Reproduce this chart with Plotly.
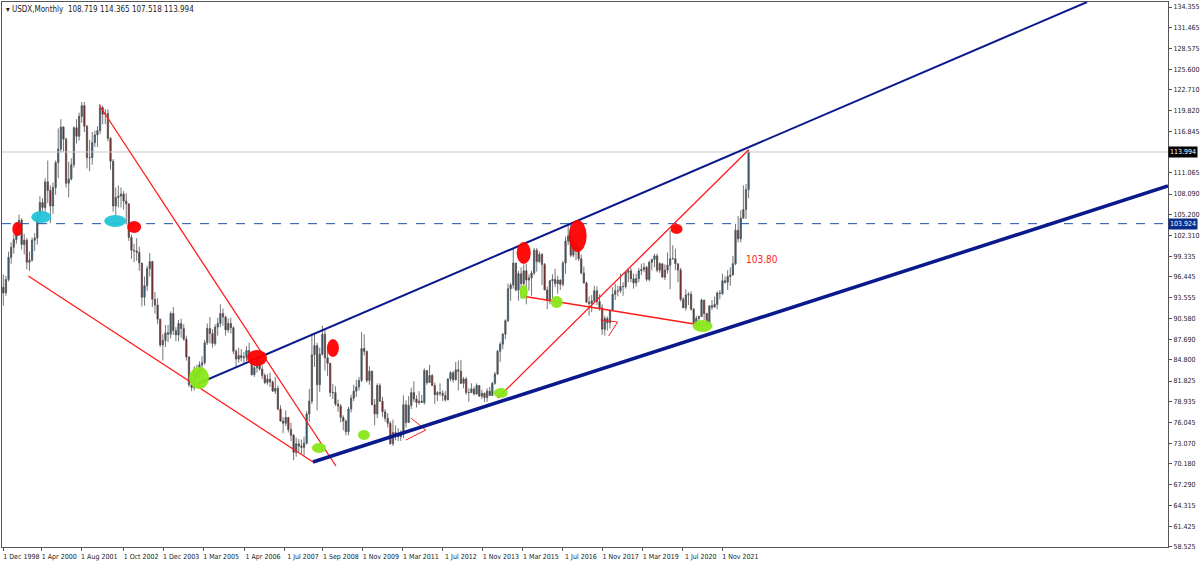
import plotly.graph_objects as go

first_open = 95.0
closes = [94.2,
 96.1,99.2,100.6,101.7,103.4,104.4,101.0,101.6,98.5,98.8,101.6,101.9,
 105.0,106.9,106.2,109.8,108.6,106.4,109.0,112.5,114.4,117.5,115.8,109.6,
 110.2,112.2,117.4,116.2,119.0,120.5,117.6,113.2,113.2,115.3,116.4,117.0,
 120.2,119.3,119.4,115.9,112.7,106.4,107.6,107.8,108.1,107.1,106.7,102.0,
 100.2,100.1,99.9,98.4,93.6,95.2,97.6,98.6,93.3,92.5,90.5,86.9,
 87.5,88.6,88.4,91.3,88.9,88.3,89.9,89.2,87.7,85.2,81.3,80.9,
 83.1,82.4,84.1,84.4,87.2,89.2,88.5,87.1,89.4,89.9,91.3,90.8,
 89.0,89.9,89.3,86.0,84.9,85.4,85.1,85.2,86.1,85.0,82.7,83.7,
 84.7,83.5,82.6,81.6,82.1,81.7,80.4,80.8,77.9,76.2,75.9,76.7,
 75.0,74.2,71.8,73.0,72.7,72.5,73.1,77.2,79.0,85.5,86.8,81.3,
 85.6,88.4,85.1,84.3,80.2,80.2,78.6,78.3,76.7,76.2,74.7,77.9,
 79.4,80.4,81.0,81.9,86.4,86.0,81.9,83.2,78.5,77.2,81.2,79.0,
 77.5,76.6,75.9,73.0,74.6,74.3,74.0,74.3,78.5,76.0,78.4,80.2,
 79.3,78.8,79.0,78.8,83.3,81.6,82.6,81.2,79.9,80.2,80.1,79.8,
 79.2,82.1,83.0,82.0,83.4,83.2,81.5,82.1,80.2,80.2,80.7,80.0,
 81.2,79.7,80.1,79.5,80.4,79.8,81.5,82.8,86.0,87.0,88.4,90.3,
 94.8,95.3,98.4,94.6,96.9,95.5,97.3,96.0,96.3,97.0,100.2,98.6,
 99.6,98.2,94.6,93.1,95.9,96.1,95.5,96.0,95.4,98.4,101.5,102.2,
 99.5,101.1,100.3,99.0,97.0,95.6,92.9,92.7,93.1,94.5,93.0,92.1,
 89.1,90.6,90.0,91.8,94.0,94.5,94.5,95.1,95.1,97.1,97.3,96.2,
 95.6,96.2,97.3,97.5,97.8,96.1,98.5,98.9,99.4,97.4,98.3,96.4,
 97.4,98.1,99.0,99.0,98.3,97.4,93.3,92.1,93.9,94.0,91.9,89.9,
 90.6,90.9,93.2,91.3,90.0,92.4,92.2,92.6,94.2,94.1,95.9,95.7,
 96.5,96.7,98.3,103.0,101.8,104.7,105.9,108.719,113.994]
highs = [96.8,
 96.6,100.0,101.3,102.4,104.1,105.2,104.7,102.5,101.9,100.0,102.0,102.6,
 105.6,107.8,107.5,110.3,112.8,109.3,109.7,112.8,117.3,118.6,117.6,116.0,
 112.6,113.1,117.6,118.6,119.5,121.0,121.0,117.8,115.7,116.8,117.0,117.6,
 120.7,120.5,120.0,120.0,116.1,113.0,109.0,109.3,109.0,108.5,108.2,106.8,
 102.4,101.1,101.9,100.7,98.4,96.5,98.0,99.8,98.7,94.3,93.5,90.6,
 88.4,89.7,89.7,91.6,92.2,89.4,90.4,90.6,89.8,88.2,85.3,82.4,
 83.9,84.1,84.6,85.3,87.6,89.9,90.8,89.1,89.8,90.7,92.6,92.0,
 91.0,90.6,90.7,89.5,86.3,86.5,86.3,85.9,86.7,87.2,85.4,84.5,
 85.5,85.1,84.0,82.9,82.8,83.0,81.9,82.4,81.2,78.4,76.8,77.7,
 76.8,76.0,74.4,73.9,73.7,73.6,74.0,77.6,80.7,88.5,88.5,87.2,
 86.5,89.6,89.1,86.5,84.4,81.4,81.1,79.2,78.6,77.0,76.4,78.2,
 79.9,81.3,82.0,82.4,88.7,88.4,86.0,83.9,83.3,79.3,81.5,81.5,
 79.6,77.9,77.3,76.2,76.4,75.6,75.2,74.9,79.8,79.1,79.7,80.9,
 81.8,79.8,80.4,79.9,83.6,83.0,84.1,82.8,81.6,80.4,81.5,80.5,
 80.4,82.2,83.2,83.2,84.5,84.7,84.8,82.4,82.4,80.8,81.5,81.0,
 81.5,81.2,80.6,80.2,80.8,81.0,81.7,83.1,86.2,87.3,88.6,90.5,
 95.5,95.6,100.4,98.4,97.3,97.8,98.2,98.3,96.8,97.3,100.5,100.5,
 100.0,99.8,98.4,95.1,96.0,96.8,97.6,96.6,96.1,98.7,102.1,103.8,
 103.8,101.8,102.3,100.8,99.6,97.9,95.8,93.7,93.9,95.2,95.1,94.0,
 92.6,91.0,90.9,91.8,95.0,95.5,95.2,96.9,95.7,97.2,97.7,97.7,
 96.9,96.9,97.7,98.3,98.4,98.0,98.7,99.0,99.7,99.7,98.5,98.3,
 98.2,99.9,103.0,100.9,100.4,98.3,97.7,93.6,94.7,94.3,94.4,92.1,
 91.0,91.0,93.4,93.2,91.4,92.4,93.2,93.7,94.4,94.6,96.9,96.5,
 97.4,97.8,99.4,103.9,105.0,105.8,109.3,109.5,114.365]
lows = [92.4,
 93.8,95.8,98.3,99.7,101.1,102.2,100.3,99.6,97.5,97.3,98.6,100.1,
 101.0,104.3,105.3,105.3,106.8,104.0,105.3,108.0,110.3,113.9,114.0,109.0,
 107.6,110.0,111.8,115.2,115.6,118.1,116.8,111.7,111.3,112.2,114.7,114.7,
 116.5,117.9,117.9,115.5,111.5,105.6,104.6,106.2,106.2,105.9,103.8,101.5,
 99.0,98.5,98.7,97.3,92.3,92.4,94.5,96.5,92.2,91.3,89.8,86.6,
 84.7,86.6,87.3,87.8,88.3,87.4,87.4,87.9,87.5,84.7,81.0,80.4,
 80.5,81.7,80.9,83.2,84.1,86.9,87.1,86.5,86.8,88.2,89.4,89.6,
 88.2,88.6,88.5,85.6,83.8,84.4,84.6,84.3,84.6,84.8,82.6,82.4,
 83.0,83.3,82.1,81.4,81.3,81.0,80.3,80.0,77.7,76.1,74.5,75.5,
 74.6,73.4,70.7,71.2,71.8,71.6,71.3,72.9,76.1,78.6,83.8,77.7,
 80.3,85.4,83.3,82.5,79.6,79.3,78.3,77.5,76.0,74.9,74.2,74.2,
 77.4,79.0,79.6,80.5,81.7,85.4,81.6,81.3,78.4,75.6,76.6,78.9,
 76.8,76.1,75.3,72.9,72.7,73.5,73.4,73.4,73.8,75.3,76.0,77.9,
 78.9,78.1,78.5,78.8,78.5,81.3,81.6,81.1,78.6,79.0,79.7,79.0,
 78.9,79.1,81.8,81.6,81.9,80.5,81.4,80.8,79.9,78.9,80.2,79.8,
 79.9,79.6,79.3,78.9,78.9,79.7,79.7,81.3,82.7,84.5,86.3,87.7,
 90.1,93.1,94.8,94.4,93.1,93.4,95.1,92.6,94.5,93.8,96.7,97.2,
 98.4,95.3,94.6,91.9,92.6,93.4,95.0,94.1,94.6,95.1,96.9,100.9,
 99.2,99.2,98.8,98.7,96.8,95.5,92.8,91.0,91.5,92.8,92.5,91.7,
 88.3,88.2,88.9,89.2,91.8,93.2,93.7,94.2,93.8,94.8,95.7,95.7,
 94.8,95.1,95.7,96.7,97.1,95.8,95.8,97.4,97.8,97.1,97.0,96.4,
 96.0,96.9,94.7,98.9,97.4,95.7,93.0,92.1,91.7,92.5,91.7,89.7,
 89.2,89.7,90.8,90.4,89.5,89.5,91.8,92.2,91.9,93.3,93.9,95.5,
 94.6,95.2,97.3,98.1,101.3,101.3,104.7,104.6,107.518]
opens = [first_open] + closes[:-1]
idx = list(range(len(closes)))

tick_months = [0,14.5,29.8,45.8,61.1,76.4,92.4,107.7,122.2,137.5,152.8,168.1,183.4,198.7,
               214.0,229.2,244.5,259.8,275.0]
tick_labels = ["1 Dec 1998","1 Apr 2000","1 Aug 2001","1 Oct 2002","1 Dec 2003","1 Mar 2005",
               "1 Apr 2006","1 Jul 2007","1 Sep 2008","1 Nov 2009","1 Mar 2011","1 Jul 2012",
               "1 Nov 2013","1 Mar 2015","1 Jul 2016","1 Nov 2017","1 Mar 2019","1 Jul 2020","1 Nov 2021"]
y_ticks = [58.525,61.425,64.315,67.290,70.180,73.070,76.045,78.935,81.825,84.800,87.690,90.580,
           93.555,96.445,99.335,102.310,105.200,108.090,111.065,116.845,119.820,122.710,125.600,
           128.575,131.465,134.355]
last_price = 113.994
level_price = 103.924

# pixel -> data helpers for hand-drawn annotations
def px_x(x): return (x - 2) / 2.618
def px_y(y): return 134.355 - (y - 7) / 7.12

FONT = "DejaVu Sans Condensed, Liberation Sans Narrow, Liberation Sans"

fig = go.Figure()
fig.add_trace(go.Candlestick(x=idx, open=opens, high=highs, low=lows, close=closes,
    increasing=dict(fillcolor="#1f5f8c", line=dict(color="#505050", width=0.8)),
    decreasing=dict(fillcolor="#8b1010", line=dict(color="#505050", width=0.8)),
    whiskerwidth=0, showlegend=False, hoverinfo="skip"))

shapes = []
def line(p, q, color, w):
    shapes.append(dict(type="line", x0=px_x(p[0]), y0=px_y(p[1]), x1=px_x(q[0]), y1=px_y(q[1]),
                       line=dict(color=color, width=w), layer="above"))
def ell(cx, cy, w, h, color):
    shapes.append(dict(type="circle", x0=px_x(cx-w/2), x1=px_x(cx+w/2), y0=px_y(cy+h/2), y1=px_y(cy-h/2),
                       fillcolor=color, line=dict(width=0), layer="above", opacity=0.95))

shapes.append(dict(type="line", xref="paper", x0=0, x1=1, y0=last_price, y1=last_price,
                   line=dict(color="#c8c8c8", width=1)))
shapes.append(dict(type="line", xref="paper", x0=0, x1=1, y0=level_price, y1=level_price,
                   line=dict(color="#1f4fa8", width=1, dash="dash")))
red = "#ff1a1a"
line((27,276),(312,462),red,1.3)
line((98,105),(335,466),red,1.3)
line((497,398),(748,150),red,1.3)
line((521,296),(700,325),red,1.3)
line((405,440),(425,430),red,1); line((425,430),(410,418),red,1)
line((608,336),(617,322),red,1); line((617,322),(600,320),red,1)
line((196,384),(1087,2),"#0a1a8c",2)
line((312,462),(1168,186),"#0a1a8c",3.5)
for cx,cy,w,h in [(16,229,10,14),(133,227,14,12),(256,358,20,16),(332,348,12,18),
                  (523,253,14,22),(577,236,18,32),(676,229,12,10)]:
    ell(cx,cy,w,h,"#ff0000")
for cx,cy,w,h in [(40,217,20,12),(114,221,22,12)]:
    ell(cx,cy,w,h,"#22c4d8")
for cx,cy,w,h in [(198,378,20,22),(318,448,14,10),(363,435,12,10),(500,393,14,10),
                  (523,292,8,14),(556,302,12,12),(702,326,20,12)]:
    ell(cx,cy,w,h,"#88e818")

annotations = [
    dict(text="▾ USDX,Monthly  108.719 114.365 107.518 113.994", xref="paper", yref="paper",
         x=0.002, y=0.998, xanchor="left", yanchor="top", showarrow=False,
         font=dict(size=8, color="#222")),
    dict(text="103.80", x=px_x(744), y=px_y(259), xanchor="left", showarrow=False,
         font=dict(size=10, color="#ff2020")),
    dict(text="113.994", xref="paper", x=1.0, y=last_price, xanchor="left", showarrow=False,
         bgcolor="#000000", font=dict(size=7, color="#ffffff"), borderpad=1),
    dict(text="103.924", xref="paper", x=1.0, y=level_price, xanchor="left", showarrow=False,
         bgcolor="#0a2a8c", font=dict(size=7, color="#ffffff"), borderpad=1),
]

fig.update_layout(width=1200, height=561, margin=dict(l=2, r=32, t=2, b=14, autoexpand=False),
    paper_bgcolor="white", plot_bgcolor="white", shapes=shapes, annotations=annotations,
    font=dict(family=FONT, size=7, color="#222"),
    xaxis=dict(range=[-0.5, px_x(1168)], rangeslider=dict(visible=False), tickmode="array",
               tickvals=tick_months, ticktext=tick_labels, showgrid=False, zeroline=False,
               showline=True, linecolor="#555", mirror=True, ticks="outside", ticklen=3,
               tickcolor="#555", ticklabelshift=18, tickangle=0, automargin=False,
               tickfont=dict(size=7)),
    yaxis=dict(side="right", range=[px_y(547), px_y(2)], tickmode="array", tickvals=y_ticks,
               ticktext=[f"{v:.3f}" for v in y_ticks], showgrid=False, zeroline=False,
               showline=True, linecolor="#555", mirror=True, ticks="outside", ticklen=3,
               tickcolor="#555", automargin=False, tickfont=dict(size=7)))
fig.write_html("out.html", config={"displayModeBar": False},
               post_script="document.body.style.margin='0';document.body.style.overflow='hidden';")
